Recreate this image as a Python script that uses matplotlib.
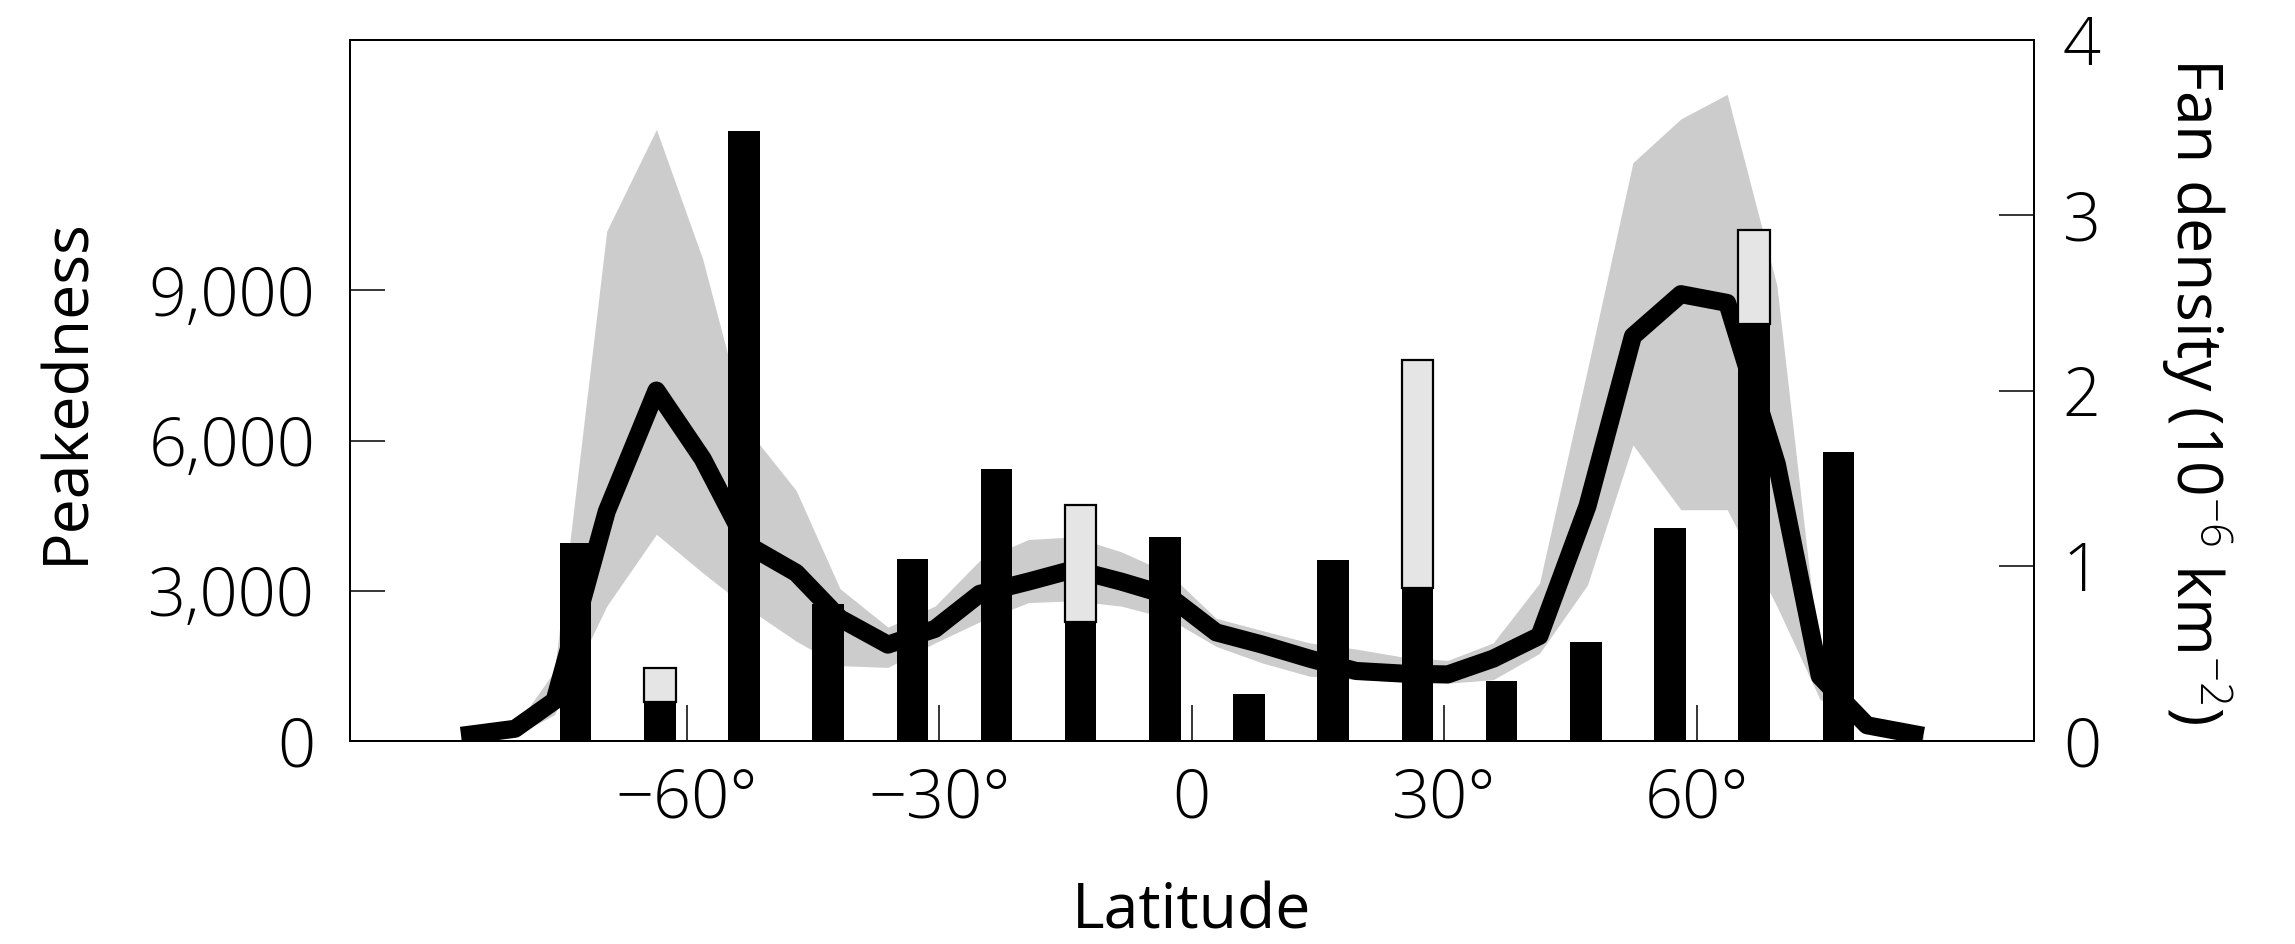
import matplotlib
matplotlib.use('Agg')
import matplotlib.pyplot as plt
import numpy as np

plt.rcParams['font.family'] = ['Open Sans', 'DejaVu Sans']
plt.rcParams['font.weight'] = 'light'
plt.rcParams['mathtext.fontset'] = 'custom'
plt.rcParams['mathtext.rm'] = 'Open Sans:light'
plt.rcParams['mathtext.it'] = 'Open Sans:light'
plt.rcParams['axes.unicode_minus'] = True

# fan density line + spread band (right axis)
line_lat = [-86.8, -80.4, -75.7, -69.5, -63.6, -58.1, -52.8, -47.0, -41.8, -36.1,
            -30.5, -25.2, -19.4, -14.0, -8.4, -2.8, 2.9, 8.4, 14.0, 19.5,
            25.0, 30.4, 35.8, 41.3, 47.0, 52.4, 58.1, 63.6, 69.5, 74.6,
            80.2, 86.9]
fan_density = [0.03, 0.07, 0.23, 1.31, 2.00, 1.61, 1.12, 0.96, 0.70, 0.55,
               0.64, 0.84, 0.91, 0.98, 0.91, 0.83, 0.62, 0.55, 0.47, 0.40,
               0.385, 0.38, 0.47, 0.60, 1.34, 2.31, 2.55, 2.50, 1.58, 0.37,
               0.09, 0.03]
band_hi = [0.03, 0.08, 0.40, 2.91, 3.49, 2.75, 1.78, 1.43, 0.87, 0.65,
           0.77, 1.03, 1.15, 1.165, 1.08, 0.96, 0.70, 0.63, 0.56, 0.525,
           0.48, 0.46, 0.56, 0.90, 2.12, 3.30, 3.55, 3.69, 2.60, 0.45,
           0.12, 0.03]
band_lo = [0.0, 0.03, 0.15, 0.77, 1.18, 0.96, 0.76, 0.57, 0.43, 0.42,
           0.56, 0.68, 0.79, 0.80, 0.77, 0.70, 0.54, 0.445, 0.37, 0.35,
           0.34, 0.33, 0.35, 0.50, 0.89, 1.69, 1.32, 1.32, 0.77, 0.24,
           0.05, 0.0]

# peakedness bars (left axis)
bar_lat = [-73.2, -63.2, -53.2, -43.2, -33.2, -23.2, -13.2, -3.2,
           6.8, 16.8, 26.8, 36.8, 46.8, 56.8, 66.8, 76.8]
peak_black = [3950, 770, 12180, 2730, 3630, 5440, 2380, 4080,
              940, 3610, 3060, 1205, 1980, 4255, 8320, 5777]
peak_total = [3950, 1460, 12180, 2730, 3630, 5440, 4710, 4080,
              940, 3610, 7610, 1205, 1980, 4255, 10200, 5777]

xticks = [-60, -30, 0, 30, 60]
xticklabels = ['\u221260\u00b0', '\u221230\u00b0', '0', '30\u00b0', '60\u00b0']
yticks = [0, 3000, 6000, 9000]
yticklabels = ['0', '3,000', '6,000', '9,000']
y2ticks = [0, 1, 2, 3, 4]

fs = 48     # tick labels
lfs = 45    # axis labels

fig = plt.figure(figsize=(22.95, 9.44), dpi=100)
ax = fig.add_axes([0.1525, 0.2150, 0.7336, 0.7426])
ax2 = ax.twinx()

ax2.fill_between(line_lat, band_lo, band_hi, color='#cccccc', lw=0)
ax2.plot(line_lat, fan_density, color='k', lw=13,
         solid_joinstyle='round', solid_capstyle='butt')

extra = np.array(peak_total) - np.array(peak_black)
ax.bar(bar_lat, peak_black, width=3.75, color='k', lw=0)
m = extra > 0
ax.bar(np.array(bar_lat)[m], extra[m], bottom=np.array(peak_black)[m],
       width=3.75, color='#e5e5e5', edgecolor='k', lw=1.6)

ax.set_zorder(ax2.get_zorder() + 1)
ax.patch.set_visible(False)

ax.set_xlim(-100, 100)
ax.set_ylim(0, 14000)
ax2.set_ylim(0, 4)

ax.set_xticks(xticks)
ax.set_xticklabels(xticklabels)
ax.set_yticks(yticks)
ax.set_yticklabels(yticklabels)
ax2.set_yticks(y2ticks)

ax.tick_params(axis='x', direction='in', length=26, width=1.1,
               labelsize=fs, pad=19)
ax.tick_params(axis='y', direction='in', length=25, width=1.1,
               labelsize=fs, pad=25)
ax2.tick_params(axis='y', direction='in', length=25, width=1.1,
                labelsize=fs, pad=21)

for a in (ax, ax2):
    for s in a.spines.values():
        s.set_linewidth(1.4)

ax.set_xlabel('Latitude', fontsize=lfs, labelpad=34)
ax.set_ylabel('Peakedness', fontsize=lfs, labelpad=36)
ax2.set_ylabel('Fan density (10$^{\u22126}$ km$^{\u22122}$)', fontsize=lfs,
               rotation=270, va='bottom', labelpad=42)

fig.savefig('out.png', dpi=100)
